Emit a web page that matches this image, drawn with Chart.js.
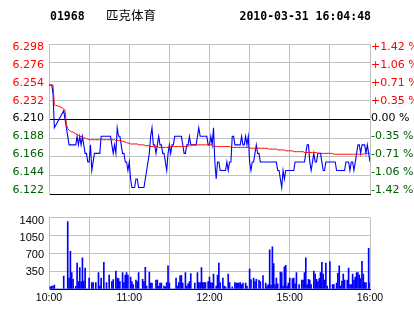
<!DOCTYPE html>
<html>
<head>
<meta charset="utf-8">
<title>01968 匹克体育</title>
<script src="https://cdn.jsdelivr.net/npm/chart.js@4.4.1/dist/chart.umd.min.js"></script>
<style>
  html, body { margin: 0; padding: 0; background: #fff; }
  body { width: 414px; height: 314px; position: relative; overflow: hidden; }
  canvas { position: absolute; left: 0; }
  #priceChart { top: 0; }
  #volChart { top: 206px; }
</style>
</head>
<body>
<canvas id="priceChart" width="414" height="206"></canvas>
<canvas id="volChart" width="414" height="108"></canvas>
<script>
const stockCode = "01968";
const stockName = "匹克体育";
const stamp = "2010-03-31 16:04:48";

const timeLabels = ["10:00", "", "11:00", "", "12:00", "", "15:00", "", "16:00"];
const prevClose = 6.21;
const priceTicks = [6.122, 6.144, 6.166, 6.188, 6.210, 6.232, 6.254, 6.276, 6.298];
const pctLabels = ["-1.42 %", "-1.06 %", "-0.71 %", "-0.35 %", "0.00 %", "+0.35 %", "+0.71 %", "+1.06 %", "+1.42 %"];
const volTicks = [0, 350, 700, 1050, 1400];

// one value per minute, null = no trade
const price = [
  6.25, 6.25, 6.25, 6.24, 6.20, null, null, null, null, null,
  null, 6.22, 6.21, 6.20, 6.19, 6.18, 6.18, 6.18, 6.18, 6.18,
  6.18, 6.19, 6.18, 6.19, 6.18, 6.19, 6.18, 6.17, 6.17, 6.16,
  6.16, 6.18, 6.15, 6.16, 6.17, 6.17, 6.17, 6.17, 6.17, 6.19,
  6.19, 6.19, 6.19, 6.19, 6.19, 6.19, 6.19, 6.18, 6.17, 6.18,
  6.17, 6.20, 6.19, 6.19, 6.18, 6.17, 6.17, 6.16, 6.16, 6.15,
  6.16, 6.14, 6.13, 6.13, 6.13, 6.14, 6.14, 6.13, 6.13, 6.13,
  6.13, 6.13, 6.14, 6.15, 6.16, 6.17, 6.19, 6.20, 6.18, 6.18,
  6.17, 6.18, 6.19, 6.18, 6.18, 6.17, 6.17, 6.16, 6.15, 6.17,
  6.18, 6.17, 6.18, 6.18, 6.19, 6.19, 6.19, 6.19, 6.19, 6.19,
  6.18, 6.17, 6.17, 6.18, 6.18, 6.19, 6.18, 6.18, 6.18, 6.18,
  6.18, 6.19, 6.20, 6.19, 6.19, 6.19, 6.19, 6.19, 6.19, 6.18,
  6.18, 6.19, 6.18, 6.20, 6.16, 6.14, 6.16, 6.16, 6.15, 6.15,
  6.15, 6.15, 6.15, 6.16, 6.15, 6.16, 6.16, 6.19, 6.19, 6.18,
  6.18, 6.18, 6.18, 6.18, 6.19, 6.18, 6.18, 6.19, 6.18, 6.19,
  6.16, 6.15, 6.16, 6.16, 6.17, 6.18, 6.17, 6.17, 6.16, 6.16,
  6.16, 6.16, 6.16, 6.16, 6.16, 6.16, 6.16, 6.16, 6.16, 6.16,
  6.16, 6.15, 6.15, 6.14, 6.13, 6.15, 6.14, 6.15, 6.15, 6.15,
  6.15, 6.15, 6.15, 6.15, 6.16, 6.16, 6.16, 6.16, 6.16, 6.16,
  6.16, 6.16, 6.17, 6.18, 6.18, 6.16, 6.15, 6.16, 6.17, 6.16,
  6.16, 6.17, 6.17, 6.17, 6.16, 6.15, 6.15, 6.16, 6.16, 6.16,
  6.16, 6.16, 6.16, 6.16, 6.16, 6.15, 6.15, 6.15, 6.15, 6.15,
  6.15, 6.15, 6.16, 6.16, 6.16, 6.15, 6.16, 6.16, 6.15, 6.16,
  6.17, 6.18, 6.18, 6.17, 6.18, 6.18, 6.18, 6.17, 6.18, 6.17,
  6.16
];

const avgPrice = [
  6.250, 6.250, 6.250, 6.250, 6.227, 6.226, 6.226, 6.225, 6.225, 6.224,
  6.223, 6.222, 6.220, 6.204, 6.199, 6.197, 6.196, 6.195, 6.195, 6.194,
  6.193, 6.192, 6.191, 6.190, 6.190, 6.189, 6.188, 6.188, 6.187, 6.187,
  6.186, 6.186, 6.186, 6.186, 6.186, 6.186, 6.186, 6.186, 6.186, 6.186,
  6.186, 6.186, 6.186, 6.186, 6.186, 6.186, 6.186, 6.186, 6.186, 6.186,
  6.185, 6.185, 6.185, 6.185, 6.185, 6.184, 6.184, 6.183, 6.183, 6.182,
  6.182, 6.181, 6.181, 6.181, 6.181, 6.181, 6.181, 6.180, 6.180, 6.180,
  6.180, 6.180, 6.179, 6.179, 6.179, 6.179, 6.178, 6.178, 6.178, 6.178,
  6.178, 6.178, 6.177, 6.177, 6.177, 6.177, 6.177, 6.177, 6.177, 6.177,
  6.178, 6.178, 6.178, 6.178, 6.178, 6.178, 6.178, 6.178, 6.178, 6.178,
  6.178, 6.178, 6.178, 6.178, 6.178, 6.180, 6.180, 6.180, 6.180, 6.180,
  6.180, 6.180, 6.180, 6.180, 6.180, 6.180, 6.180, 6.180, 6.180, 6.180,
  6.180, 6.180, 6.180, 6.178, 6.178, 6.178, 6.178, 6.178, 6.178, 6.178,
  6.178, 6.178, 6.178, 6.178, 6.178, 6.178, 6.177, 6.177, 6.177, 6.177,
  6.177, 6.177, 6.177, 6.177, 6.177, 6.177, 6.177, 6.177, 6.177, 6.177,
  6.177, 6.176, 6.176, 6.176, 6.176, 6.176, 6.176, 6.176, 6.176, 6.176,
  6.176, 6.176, 6.176, 6.176, 6.175, 6.175, 6.175, 6.175, 6.175, 6.175,
  6.175, 6.174, 6.174, 6.174, 6.174, 6.174, 6.174, 6.173, 6.173, 6.173,
  6.173, 6.173, 6.173, 6.172, 6.172, 6.172, 6.172, 6.172, 6.172, 6.172,
  6.172, 6.171, 6.171, 6.171, 6.171, 6.171, 6.171, 6.171, 6.171, 6.171,
  6.171, 6.170, 6.170, 6.170, 6.170, 6.170, 6.170, 6.170, 6.170, 6.170,
  6.170, 6.170, 6.170, 6.169, 6.169, 6.169, 6.169, 6.169, 6.169, 6.169,
  6.169, 6.169, 6.169, 6.169, 6.169, 6.169, 6.169, 6.169, 6.169, 6.169,
  6.169, 6.169, 6.169, 6.169, 6.169, 6.169, 6.170, 6.170, 6.170, 6.170,
  6.170
];

const volume = [
  0, 41, 58, 58, 76, 0, 0, 0, 0, 0,
  0, 251, 0, 0, 1323, 216, 740, 321, 192, 0,
  52, 507, 146, 420, 146, 612, 157, 408, 0, 0,
  216, 0, 128, 128, 0, 128, 0, 321, 58, 216,
  0, 525, 0, 128, 0, 274, 0, 146, 187, 0,
  350, 216, 204, 146, 0, 321, 128, 274, 321, 274,
  0, 233, 146, 87, 0, 175, 146, 321, 0, 0,
  192, 146, 426, 58, 0, 332, 117, 117, 0, 0,
  175, 175, 52, 117, 117, 0, 58, 41, 128, 455,
  117, 0, 0, 0, 0, 216, 58, 128, 262, 262,
  117, 0, 321, 58, 99, 146, 303, 0, 0, 117,
  0, 321, 128, 128, 420, 128, 128, 128, 0, 146,
  233, 128, 117, 292, 0, 58, 274, 507, 128, 0,
  216, 58, 41, 0, 292, 128, 0, 41, 0, 128,
  117, 117, 117, 128, 87, 117, 0, 117, 58, 0,
  391, 187, 0, 216, 146, 192, 0, 175, 146, 0,
  262, 0, 117, 58, 87, 770, 76, 828, 496, 87,
  216, 99, 0, 332, 321, 58, 437, 466, 58, 117,
  216, 0, 204, 216, 99, 321, 0, 87, 0, 175,
  175, 321, 612, 87, 192, 175, 87, 0, 350, 292,
  192, 146, 204, 321, 525, 292, 175, 507, 58, 0,
  536, 0, 87, 87, 0, 117, 309, 455, 58, 157,
  292, 175, 0, 175, 408, 87, 87, 292, 175, 233,
  321, 321, 274, 204, 542, 292, 128, 128, 0, 799,
  128
];

const GRID = "#c0c0c0";
const RED = "#ff0000";
const GREEN = "#006000";
const BLUE = "#0000ff";

const lastMinute = price.length - 1;
const gridMinutes = timeLabels.map((_, i) => (i * lastMinute) / (timeLabels.length - 1));

// replace the generated ticks with a fixed list
function fixTicks(values) {
  return (scale) => {
    scale.ticks = values.map((v) => ({ value: v }));
  };
}
function fixWidth(w) {
  return (scale) => {
    scale.width = w;
  };
}
// range of a helper axis that spreads n labels evenly, inset from the plot edges
function labelRange(n, height, insetTop, insetBottom) {
  const step = (height - insetTop - insetBottom) / (n - 1);
  return { min: -insetBottom / step, max: n - 1 + insetTop / step };
}
function tickColor(ctx) {
  const v = priceTicks[ctx.index];
  if (v > prevClose) return RED;
  if (v < prevClose) return GREEN;
  return "#000";
}

// code, name and time above the chart
const header = {
  id: "header",
  afterDraw(chart) {
    const ctx = chart.ctx;
    ctx.save();
    ctx.fillStyle = "#000";
    ctx.textBaseline = "alphabetic";
    ctx.font = "bold 11.5px 'DejaVu Sans Mono'";
    ctx.textAlign = "left";
    ctx.fillText(stockCode, 50, 20);
    ctx.textAlign = "right";
    ctx.fillText(stamp, 371, 20);
    ctx.font = "12.5px 'Noto Sans CJK SC'";
    ctx.textAlign = "left";
    ctx.fillText(stockName, 106, 20);
    ctx.restore();
  },
};

function draw() {
  const priceIdx = priceTicks.map((_, i) => i);
  const priceRange = labelRange(priceTicks.length, 160, 3.3, 4.5);

  new Chart(document.getElementById("priceChart"), {
    type: "line",
    data: {
      datasets: [
        {
          data: avgPrice.map((v, i) => ({ x: i, y: v })),
          borderColor: RED,
          borderWidth: 1,
          pointRadius: 0,
          tension: 0,
        },
        {
          data: price.map((v, i) => ({ x: i, y: v })),
          borderColor: BLUE,
          borderWidth: 1.1,
          pointRadius: 0,
          tension: 0,
          spanGaps: true,
        },
      ],
    },
    options: {
      responsive: false,
      animation: false,
      devicePixelRatio: 1,
      layout: { padding: { top: 44, bottom: 2, left: 0, right: 0 } },
      plugins: { legend: { display: false }, tooltip: { enabled: false } },
      scales: {
        x: {
          type: "linear",
          min: 0,
          max: lastMinute,
          afterBuildTicks: fixTicks(gridMinutes),
          ticks: { display: false },
          grid: { color: GRID, drawTicks: false },
          border: { color: "#000" },
          afterFit: (s) => {
            s.height = 0;
          },
        },
        y: {
          type: "linear",
          position: "left",
          weight: 0,
          min: priceTicks[0],
          max: priceTicks[priceTicks.length - 1],
          afterBuildTicks: fixTicks(priceTicks),
          ticks: { display: false },
          grid: {
            drawTicks: false,
            color: (ctx) =>
              ctx.tick.value === prevClose || ctx.tick.value === priceTicks[0] ? "#000" : GRID,
          },
          border: { color: GRID },
          afterFit: fixWidth(0),
        },
        yl: {
          type: "linear",
          position: "left",
          weight: 1,
          min: priceRange.min,
          max: priceRange.max,
          afterBuildTicks: fixTicks(priceIdx),
          ticks: {
            autoSkip: false,
            padding: 5,
            color: tickColor,
            font: { family: "DejaVu Sans", size: 11 },
            callback: (v, i) => priceTicks[i].toFixed(3),
          },
          grid: { display: false, drawTicks: false },
          border: { display: false },
          afterFit: fixWidth(49),
        },
        yr: {
          type: "linear",
          position: "right",
          min: priceRange.min,
          max: priceRange.max,
          afterBuildTicks: fixTicks(priceIdx),
          ticks: {
            autoSkip: false,
            padding: 1,
            color: tickColor,
            font: { family: "DejaVu Sans", size: 11 },
            callback: (v, i) => pctLabels[i],
          },
          grid: { display: false, drawTicks: false },
          border: { display: false },
          afterFit: fixWidth(44),
        },
      },
    },
    plugins: [header],
  });

  const volRange = labelRange(volTicks.length, 80, 4, 0);

  new Chart(document.getElementById("volChart"), {
    type: "bar",
    data: {
      datasets: [
        {
          data: volume.map((v, i) => ({ x: i, y: v })),
          backgroundColor: BLUE,
          borderWidth: 0,
          barThickness: 1,
        },
      ],
    },
    options: {
      responsive: false,
      animation: false,
      devicePixelRatio: 1,
      layout: { padding: { top: 3, bottom: 0, left: 0, right: 44 } },
      plugins: { legend: { display: false }, tooltip: { enabled: false } },
      scales: {
        x: {
          type: "linear",
          offset: false,
          min: 0,
          max: lastMinute,
          afterBuildTicks: fixTicks(gridMinutes),
          ticks: {
            autoSkip: false,
            maxRotation: 0,
            padding: 3,
            color: "#000",
            font: { family: "Liberation Sans", size: 10.5 },
            callback: (v, i) => timeLabels[i],
          },
          grid: { color: GRID, drawTicks: false, offset: false },
          border: { color: "#000" },
          afterFit: (s) => {
            s.height = 25;
          },
        },
        y: {
          type: "linear",
          position: "left",
          weight: 0,
          min: volTicks[0],
          max: volTicks[volTicks.length - 1],
          afterBuildTicks: fixTicks(volTicks),
          ticks: { display: false },
          grid: { color: GRID, drawTicks: false },
          border: { color: GRID },
          afterFit: fixWidth(0),
        },
        yl: {
          type: "linear",
          position: "left",
          weight: 1,
          min: volRange.min,
          max: volRange.max,
          afterBuildTicks: fixTicks(volTicks.map((_, i) => i).slice(1)),
          ticks: {
            autoSkip: false,
            padding: 5,
            color: "#000",
            font: { family: "Liberation Sans", size: 11 },
            callback: (v) => String(volTicks[Math.round(v)]),
          },
          grid: { display: false, drawTicks: false },
          border: { display: false },
          afterFit: fixWidth(49),
        },
      },
    },
  });
}

Promise.all([
  document.fonts.load("11px 'DejaVu Sans'"),
  document.fonts.load("bold 11.5px 'DejaVu Sans Mono'"),
  document.fonts.load("11px 'Liberation Sans'"),
  document.fonts.load("12.5px 'Noto Sans CJK SC'", stockName),
]).then(draw, draw);
</script>
</body>
</html>
